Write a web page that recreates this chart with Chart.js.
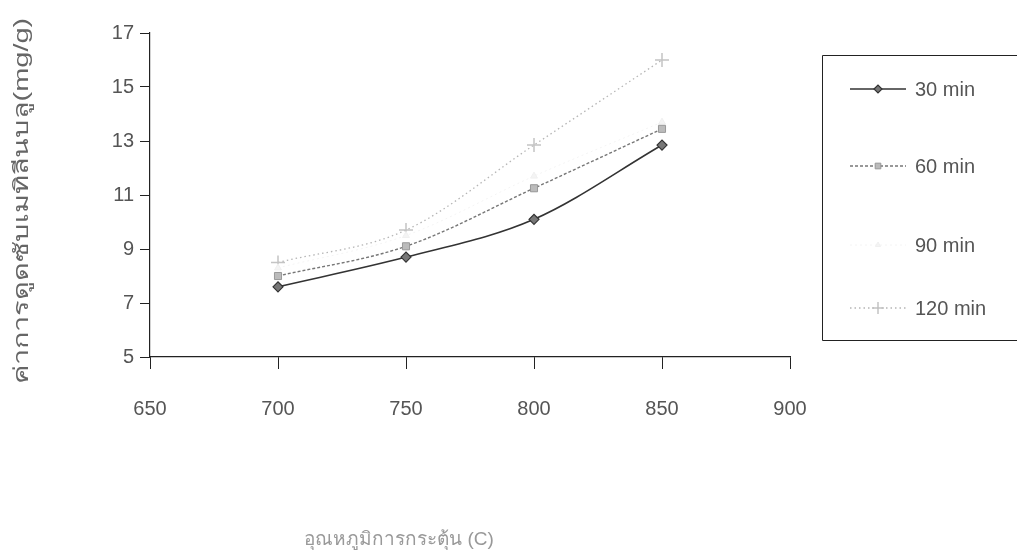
<!DOCTYPE html>
<html>
<head>
<meta charset="utf-8">
<script src="https://cdn.jsdelivr.net/npm/chart.js@4.4.1/dist/chart.umd.min.js"></script>
<style>
  html, body { margin: 0; padding: 0; background: #fff; }
  #wrap { width: 1017px; height: 555px; position: relative; }
</style>
</head>
<body>
<div id="wrap"><canvas id="c" width="1017" height="555"></canvas></div>
<script>
// Activation temperature (°C) on the x axis
const temperatures = [700, 750, 800, 850];
// Methylene blue adsorption (mg/g) for each activation time
const min30 = [7.6, 8.7, 10.1, 12.85];
const min60 = [8.0, 9.1, 11.25, 13.45];
const min90 = [8.3, 9.5, 11.7, 13.7];
const min120 = [8.5, 9.7, 12.85, 16.0];
const seriesNames = ['30 min', '60 min', '90 min', '120 min'];
const xTicks = [650, 700, 750, 800, 850, 900];
const yTicks = [5, 7, 9, 11, 13, 15, 17];
const xTitle = 'อุณหภูมิการกระตุ้น (C)';
const yTitle = 'ค่าการดูดซับเมทิลีนบลู(mg/g)';

const FONT = '"Liberation Sans", Arial, "Noto Sans", "DejaVu Sans", sans-serif';
const pts = arr => arr.map((v, i) => ({ x: temperatures[i], y: v }));

// Axis titles: the vertical one rotated with a slightly widened face,
// the horizontal one set below the tick labels
const axisTitles = {
  id: 'axisTitles',
  afterDraw(chart) {
    const ctx = chart.ctx;
    const a = chart.chartArea;
    ctx.save();
    ctx.translate(22, (a.top + a.bottom) / 2 + 6);
    ctx.rotate(-Math.PI / 2);
    ctx.scale(1.45, 1);
    ctx.font = '20px ' + FONT;
    ctx.fillStyle = '#666';
    ctx.textAlign = 'center';
    ctx.textBaseline = 'middle';
    ctx.fillText(yTitle, 0, 0);
    ctx.restore();

    ctx.save();
    ctx.font = '19px ' + FONT;
    ctx.fillStyle = '#999';
    ctx.textAlign = 'center';
    ctx.textBaseline = 'middle';
    ctx.fillText(xTitle, 399, 540);
    ctx.restore();
  }
};

// Legend drawn in a bordered box to the right of the plot
const boxLegend = {
  id: 'boxLegend',
  afterDraw(chart) {
    const ctx = chart.ctx;
    const left = 822, top = 55, bottom = 340;
    ctx.save();
    ctx.strokeStyle = '#222';
    ctx.lineWidth = 1;
    ctx.beginPath();
    ctx.moveTo(1017, top + 0.5);
    ctx.lineTo(left + 0.5, top + 0.5);
    ctx.lineTo(left + 0.5, bottom + 0.5);
    ctx.lineTo(1017, bottom + 0.5);
    ctx.stroke();
    const rows = [89, 166, 245, 308];
    chart.data.datasets.forEach((ds, i) => {
      const y = rows[i];
      ctx.strokeStyle = ds.borderColor;
      ctx.lineWidth = ds.borderWidth;
      ctx.setLineDash(ds.borderDash || []);
      ctx.beginPath();
      ctx.moveTo(850, y);
      ctx.lineTo(906, y);
      ctx.stroke();
      ctx.setLineDash([]);
      ctx.fillStyle = ds.pointBackgroundColor;
      ctx.strokeStyle = ds.pointBorderColor;
      ctx.lineWidth = ds.pointBorderWidth;
      Chart.helpers.drawPoint(ctx, {
        pointStyle: ds.pointStyle,
        radius: ds.pointRadius - 1,
        borderWidth: ds.pointBorderWidth
      }, 878, y);
      ctx.fillStyle = '#555';
      ctx.font = '20px ' + FONT;
      ctx.textBaseline = 'middle';
      ctx.textAlign = 'left';
      ctx.fillText(ds.label, 915, y + 1);
    });
    ctx.restore();
  }
};

new Chart(document.getElementById('c'), {
  type: 'line',
  data: {
    datasets: [
      {
        label: seriesNames[0], data: pts(min30),
        borderColor: '#333', borderWidth: 1.6,
        pointStyle: 'rectRot', pointRadius: 5,
        pointBackgroundColor: '#777', pointBorderColor: '#333', pointBorderWidth: 1.2,
        cubicInterpolationMode: 'monotone'
      },
      {
        label: seriesNames[1], data: pts(min60),
        borderColor: '#777', borderWidth: 1.4, borderDash: [3, 2],
        pointStyle: 'rect', pointRadius: 5,
        pointBackgroundColor: '#bbb', pointBorderColor: '#999', pointBorderWidth: 1,
        cubicInterpolationMode: 'monotone'
      },
      {
        label: seriesNames[2], data: pts(min90),
        borderColor: '#f4f4f4', borderWidth: 1, borderDash: [2, 3],
        pointStyle: 'triangle', pointRadius: 4,
        pointBackgroundColor: '#f4f4f4', pointBorderColor: '#f0f0f0', pointBorderWidth: 1,
        cubicInterpolationMode: 'monotone'
      },
      {
        label: seriesNames[3], data: pts(min120),
        borderColor: '#b5b5b5', borderWidth: 1.3, borderDash: [1.5, 3],
        pointStyle: 'cross', pointRadius: 7,
        pointBackgroundColor: '#bbb', pointBorderColor: '#c4c4c4', pointBorderWidth: 1.5,
        cubicInterpolationMode: 'monotone'
      }
    ]
  },
  options: {
    responsive: false,
    animation: false,
    layout: { padding: { left: 0, right: 227, top: 33, bottom: 0 } },
    plugins: { legend: { display: false }, tooltip: { enabled: false } },
    scales: {
      x: {
        type: 'linear', min: 650, max: 900,
        afterBuildTicks: s => { s.ticks = xTicks.map(v => ({ value: v })); },
        afterFit: s => { s.height = 198; },
        border: { color: '#222', width: 1.2 },
        grid: { drawOnChartArea: false, drawTicks: true, tickLength: 12, color: '#222' },
        ticks: { color: '#555', padding: 28, font: { family: FONT, size: 20 } }
      },
      y: {
        min: 5, max: 17,
        afterBuildTicks: s => { s.ticks = yTicks.map(v => ({ value: v })); },
        afterFit: s => { s.width = 150; },
        border: { color: '#222', width: 1.2 },
        grid: { drawOnChartArea: false, drawTicks: true, tickLength: 10, color: '#222' },
        ticks: { color: '#555', padding: 6, font: { family: FONT, size: 20 } }
      }
    }
  },
  plugins: [boxLegend, axisTitles]
});
</script>
</body>
</html>
